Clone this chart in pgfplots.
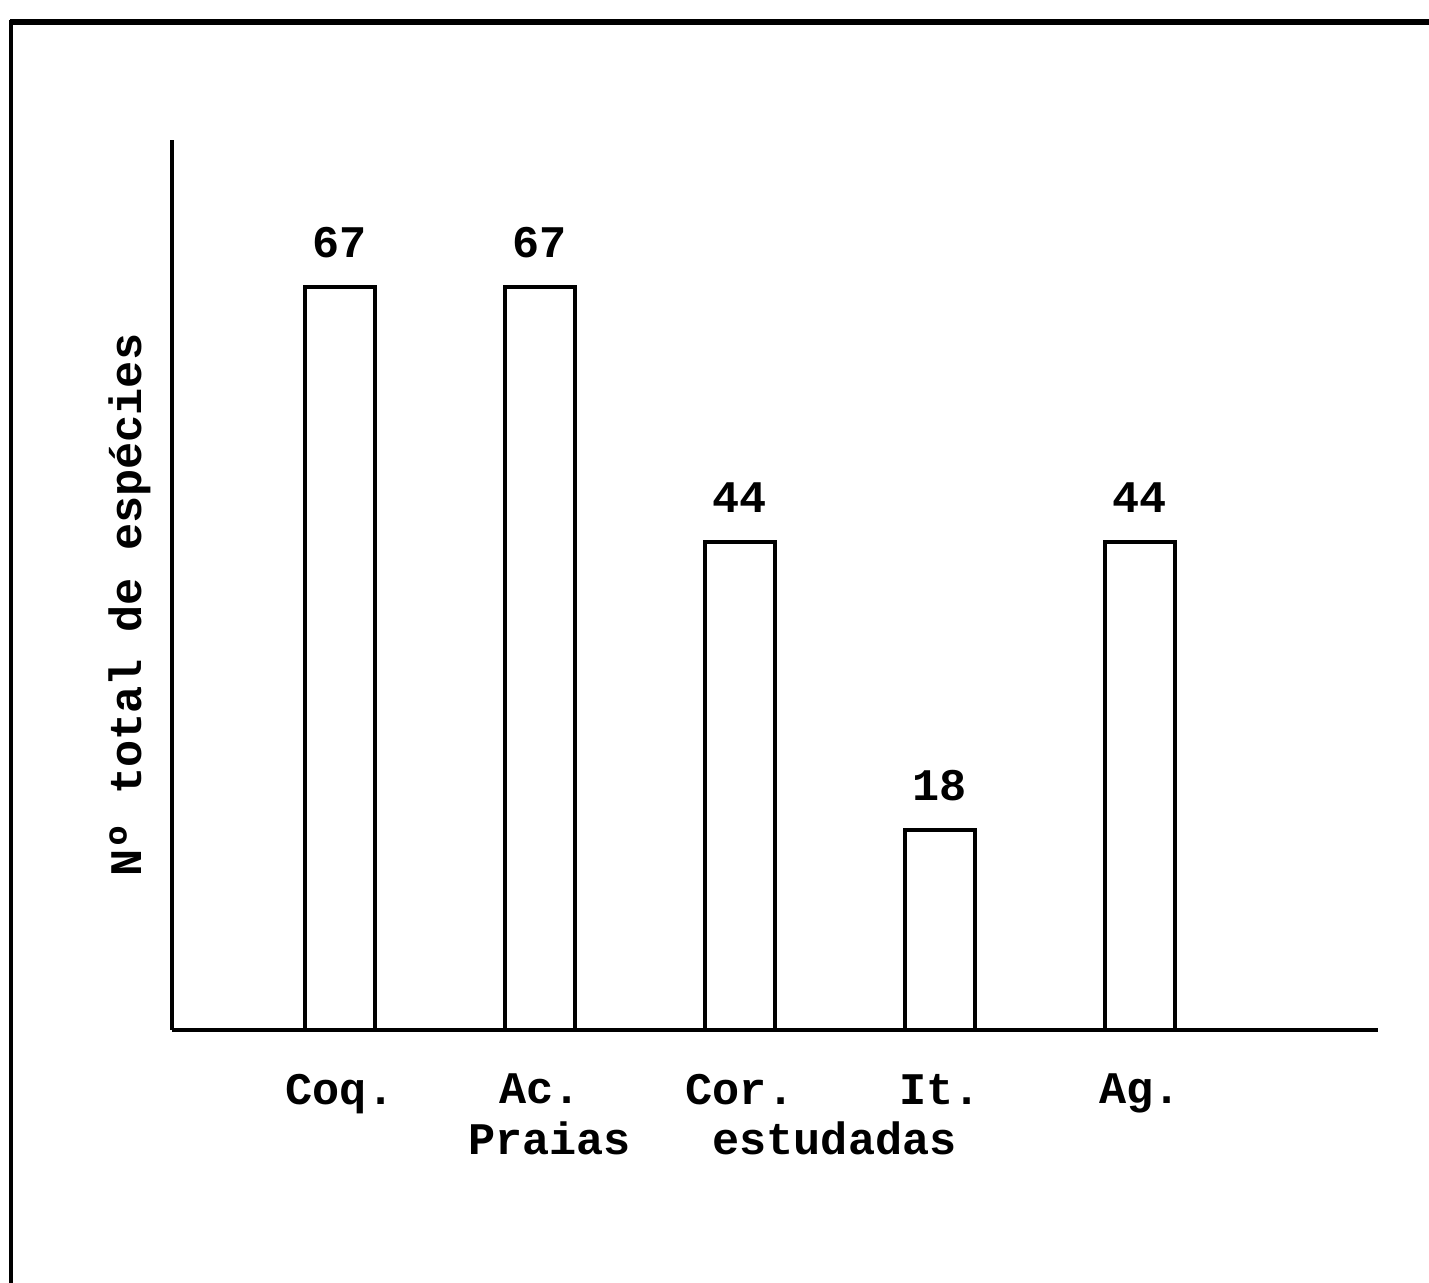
\documentclass[border=0pt]{standalone}
\usepackage{fontspec}
\setmainfont{Liberation Mono}
\usepackage{pgfplots}
\pgfplotsset{compat=1.18}
\begin{document}
\begin{tikzpicture}
\useasboundingbox (-43pt,-63.25pt) rectangle (314.25pt,257.5pt);
% page frame
\draw[line width=1.3pt] (-40.5pt,252pt) -- (314.25pt,252pt);
\draw[line width=0.9pt] (-40.25pt,252.5pt) -- (-40.25pt,-63.25pt);
\begin{axis}[
  at={(0,0)}, anchor=south west,
  scale only axis,
  width=301.5pt, height=222.5pt,
  xmin=-0.84, xmax=5.19,
  ymin=0, ymax=80.3,
  axis x line=bottom, axis y line=left,
  axis line style={-, line width=1pt},
  xtick={0,1,2,3,4},
  xticklabels={Coq.,Ac.,Cor.,It.,Ag.},
  major tick length=0pt,
  ytick=\empty,
  tick label style={font=\bfseries\fontsize{11.3pt}{13pt}\selectfont},
  xticklabel style={yshift=-7.5pt},
  ylabel={Nº total de espécies},
  ylabel style={at={(axis description cs:-0.0348,0.4775)}, anchor=center, rotate=0,
    font=\bfseries\fontsize{11.3pt}{13pt}\selectfont},
  xlabel={Praias\ \ \ estudadas},
  xlabel style={at={(axis cs:1.8625,0)}, anchor=base, yshift=-31.25pt,
    font=\bfseries\fontsize{11.3pt}{13pt}\selectfont},
  clip=false,
  /pgf/number format/assume math mode=true,
  nodes near coords,
  every node near coord/.append style={anchor=south, yshift=3.5pt,
    font=\bfseries\fontsize{11.3pt}{13pt}\selectfont},
]
\addplot[ybar, bar width=17.5pt, draw=black, fill=white, line width=1pt]
  coordinates {(0,67) (1,67) (2,44) (3,18) (4,44)};
\end{axis}
\end{tikzpicture}
\end{document}
